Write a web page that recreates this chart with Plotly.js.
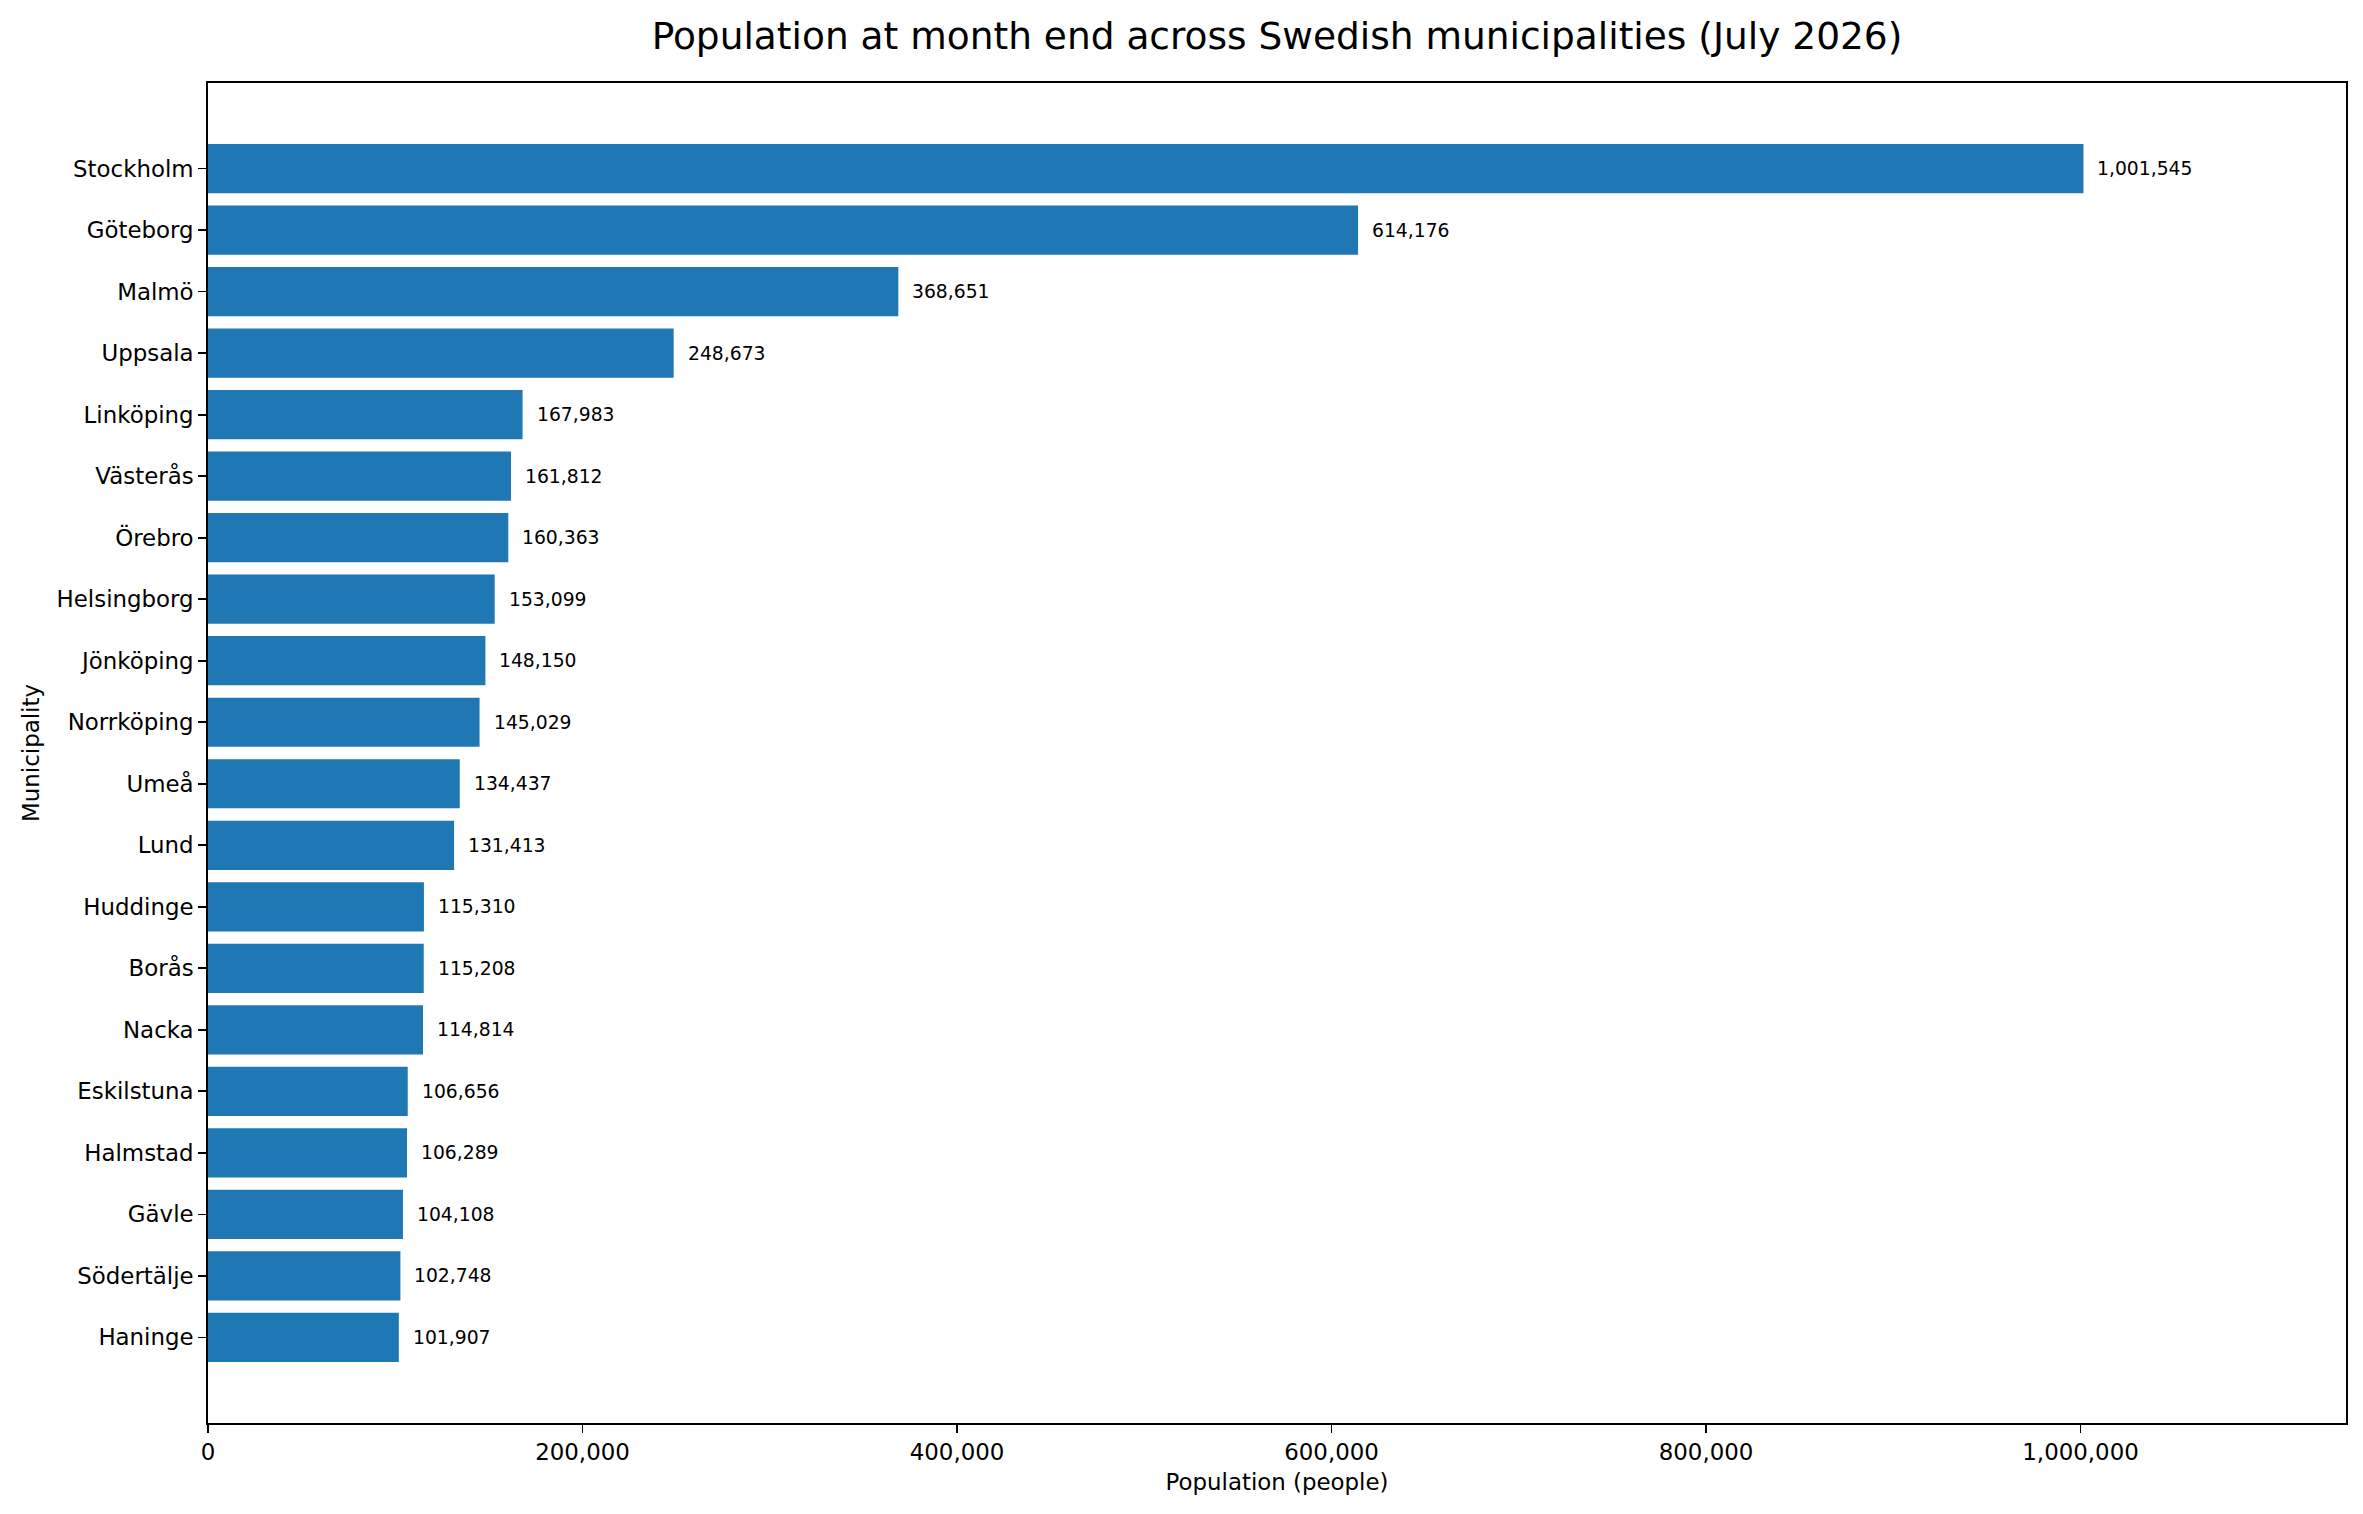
<!DOCTYPE html>
<html>
<head>
<meta charset="utf-8">
<script src="https://cdn.plot.ly/plotly-3.0.1.min.js"></script>
<style>
    html, body { margin: 0; padding: 0; background: #ffffff; }
    #chart { width: 2363px; height: 1514px; }
</style>
</head>
<body>
<div id="chart"></div>
<script>
const MUNICIPALITIES = [
    "Stockholm", "Göteborg", "Malmö", "Uppsala", "Linköping",
    "Västerås", "Örebro", "Helsingborg", "Jönköping", "Norrköping",
    "Umeå", "Lund", "Huddinge", "Borås", "Nacka",
    "Eskilstuna", "Halmstad", "Gävle", "Södertälje", "Haninge",
];
const POPULATION = [
    1001545, 614176, 368651, 248673, 167983,
    161812, 160363, 153099, 148150, 145029,
    134437, 131413, 115310, 115208, 114814,
    106656, 106289, 104108, 102748, 101907,
];
const X_TICKS = [0, 200000, 400000, 600000, 800000, 1000000];

const BAR_COLOR = "#1f77b4";
const FONT = "\"DejaVu Sans\", Verdana, sans-serif";


function buildValueLabels() {
    return MUNICIPALITIES.map((name, index) => ({
        x: POPULATION[index],
        y: name,
        xref: "x",
        yref: "y",
        text: POPULATION[index].toLocaleString("en-US"),
        showarrow: false,
        xanchor: "left",
        yanchor: "middle",
        xshift: 12,
        font: { family: FONT, size: 18.75, color: "#000000" },
    }));
}


function renderPopulationChart() {
    const maxValue = Math.max(...POPULATION);
    const last = MUNICIPALITIES.length - 1;

    const trace = {
        type: "bar",
        orientation: "h",
        x: POPULATION,
        y: MUNICIPALITIES,
        marker: { color: BAR_COLOR, line: { width: 0 } },
        hoverinfo: "x+y",
        showlegend: false,
    };

    const layout = {
        width: 2363,
        height: 1514,
        margin: { l: 208, r: 17, t: 83, b: 91 },
        paper_bgcolor: "#ffffff",
        plot_bgcolor: "#ffffff",
        font: { family: FONT, color: "#000000", size: 22.9 },
        bargap: 0.2,
        title: {
            text: "Population at month end across Swedish municipalities (July 2026)",
            font: { family: FONT, size: 37.5, color: "#000000" },
            x: 0.5,
            xref: "paper",
            xanchor: "center",
            y: 1,
            yref: "paper",
            yanchor: "bottom",
            pad: { b: 34 },
        },
        xaxis: {
            range: [0, maxValue * 1.14],
            tickvals: X_TICKS,
            tickformat: ",d",
            ticks: "outside",
            ticklen: 8,
            tickwidth: 1.8,
            tickcolor: "#000000",
            tickfont: { family: FONT, size: 22.9 },
            showline: true,
            mirror: true,
            linecolor: "#000000",
            linewidth: 1.8,
            showgrid: false,
            zeroline: false,
            title: {
                text: "Population (people)",
                font: { family: FONT, size: 22.9 },
                standoff: 10,
            },
        },
        yaxis: {
            type: "category",
            categoryorder: "array",
            categoryarray: MUNICIPALITIES,
            range: [last + 1.39, -1.39],
            ticks: "outside",
            ticklen: 8,
            tickwidth: 1.8,
            tickcolor: "#000000",
            tickfont: { family: FONT, size: 22.9 },
            showline: true,
            mirror: true,
            linecolor: "#000000",
            linewidth: 1.8,
            showgrid: false,
            zeroline: false,
            title: {
                text: "Municipality",
                font: { family: FONT, size: 22.9 },
                standoff: 10,
            },
        },
        annotations: buildValueLabels(),
    };

    return Plotly.newPlot("chart", [trace], layout, {
        displayModeBar: false,
        staticPlot: true,
    });
}


renderPopulationChart();
</script>
</body>
</html>
